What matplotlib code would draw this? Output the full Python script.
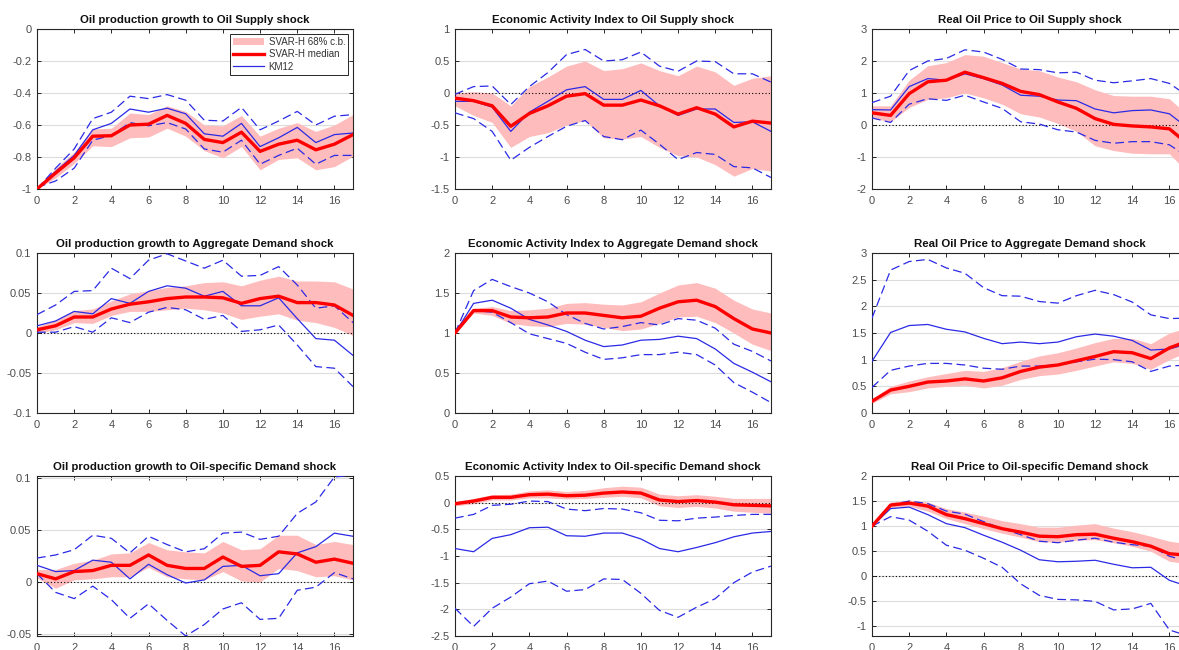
import matplotlib
matplotlib.use("Agg")
import matplotlib.pyplot as plt
from matplotlib.ticker import FuncFormatter

plt.rcParams['font.family'] = ['Liberation Sans', 'DejaVu Sans']

horizons = list(range(18))

# ---------------- Oil Supply shock ----------------
sup_prod_lo = [-1.0, -0.93, -0.84, -0.73, -0.735, -0.68, -0.675, -0.62, -0.67, -0.76, -0.805, -0.735, -0.88, -0.815, -0.805, -0.88, -0.86, -0.795]
sup_prod_hi = [-1.0, -0.87, -0.77, -0.625, -0.62, -0.525, -0.535, -0.48, -0.515, -0.60, -0.605, -0.54, -0.67, -0.62, -0.585, -0.64, -0.60, -0.535]
sup_prod_med = [-1.0, -0.9, -0.805, -0.67, -0.667, -0.60, -0.595, -0.54, -0.59, -0.69, -0.71, -0.645, -0.765, -0.72, -0.695, -0.755, -0.72, -0.66]
sup_prod_km = [-1.0, -0.89, -0.79, -0.63, -0.59, -0.50, -0.52, -0.495, -0.53, -0.655, -0.67, -0.59, -0.735, -0.68, -0.615, -0.71, -0.66, -0.65]
sup_prod_km_hi = [-1.0, -0.87, -0.75, -0.56, -0.52, -0.42, -0.435, -0.41, -0.445, -0.57, -0.575, -0.49, -0.63, -0.575, -0.515, -0.60, -0.545, -0.535]
sup_prod_km_lo = [-0.99, -0.95, -0.87, -0.695, -0.665, -0.585, -0.605, -0.585, -0.625, -0.75, -0.77, -0.695, -0.845, -0.79, -0.745, -0.845, -0.79, -0.79]

sup_act_lo = [-0.2, -0.35, -0.46, -0.85, -0.68, -0.62, -0.5, -0.43, -0.7, -0.72, -0.68, -0.85, -0.98, -1.0, -1.12, -1.3, -1.18, -1.22]
sup_act_hi = [0.0, 0.02, 0.0, -0.2, 0.1, 0.25, 0.42, 0.5, 0.35, 0.38, 0.47, 0.35, 0.27, 0.42, 0.33, 0.12, 0.23, 0.27]
sup_act_med = [-0.08, -0.12, -0.2, -0.52, -0.32, -0.2, -0.05, -0.01, -0.19, -0.19, -0.11, -0.2, -0.33, -0.23, -0.33, -0.53, -0.44, -0.47]
sup_act_km = [-0.13, -0.13, -0.22, -0.6, -0.3, -0.13, 0.05, 0.1, -0.1, -0.1, 0.04, -0.2, -0.35, -0.25, -0.25, -0.46, -0.45, -0.6]
sup_act_km_hi = [-0.02, 0.1, 0.11, -0.18, 0.1, 0.32, 0.6, 0.68, 0.5, 0.52, 0.64, 0.42, 0.34, 0.5, 0.49, 0.3, 0.3, 0.17]
sup_act_km_lo = [-0.31, -0.4, -0.6, -1.05, -0.85, -0.68, -0.52, -0.43, -0.68, -0.73, -0.58, -0.8, -1.04, -0.93, -0.96, -1.15, -1.17, -1.32]

sup_price_lo = [0.22, 0.1, 0.55, 0.8, 0.85, 1.0, 0.85, 0.65, 0.35, 0.25, 0.05, -0.2, -0.65, -0.8, -0.88, -0.9, -0.9, -1.5]
sup_price_hi = [0.6, 0.6, 1.4, 1.85, 1.95, 2.2, 2.15, 1.95, 1.75, 1.7, 1.5, 1.35, 1.1, 0.92, 0.9, 0.9, 0.82, 0.3]
sup_price_med = [0.38, 0.3, 0.98, 1.35, 1.4, 1.65, 1.48, 1.3, 1.05, 0.95, 0.72, 0.52, 0.2, 0.02, -0.03, -0.06, -0.12, -0.6]
sup_price_km = [0.48, 0.47, 1.2, 1.45, 1.4, 1.6, 1.45, 1.25, 0.93, 0.9, 0.78, 0.76, 0.5, 0.38, 0.45, 0.47, 0.35, -0.1]
sup_price_km_hi = [0.7, 0.9, 1.7, 2.0, 2.08, 2.35, 2.28, 2.05, 1.75, 1.73, 1.63, 1.65, 1.4, 1.32, 1.38, 1.45, 1.3, 0.9]
sup_price_km_lo = [0.22, 0.08, 0.65, 0.82, 0.77, 0.93, 0.72, 0.52, 0.1, 0.03, -0.15, -0.22, -0.48, -0.57, -0.52, -0.52, -0.62, -1.0]

# ---------------- Aggregate Demand shock ----------------
agg_prod_lo = [0.0, 0.004, 0.013, 0.012, 0.022, 0.027, 0.027, 0.029, 0.031, 0.029, 0.025, 0.017, 0.021, 0.024, 0.016, 0.013, 0.007, -0.003]
agg_prod_hi = [0.008, 0.016, 0.028, 0.03, 0.04, 0.049, 0.053, 0.057, 0.059, 0.063, 0.064, 0.059, 0.066, 0.071, 0.065, 0.065, 0.064, 0.055]
agg_prod_med = [0.004, 0.009, 0.02, 0.02, 0.03, 0.036, 0.039, 0.043, 0.045, 0.045, 0.044, 0.037, 0.043, 0.046, 0.038, 0.038, 0.035, 0.022]
agg_prod_km = [0.009, 0.015, 0.027, 0.024, 0.043, 0.037, 0.052, 0.059, 0.056, 0.046, 0.052, 0.034, 0.034, 0.044, 0.018, -0.007, -0.009, -0.028]
agg_prod_km_hi = [0.023, 0.035, 0.052, 0.053, 0.081, 0.068, 0.091, 0.099, 0.09, 0.081, 0.091, 0.071, 0.072, 0.083, 0.06, 0.031, 0.034, 0.013]
agg_prod_km_lo = [0.001, 0.001, 0.008, 0.001, 0.019, 0.013, 0.026, 0.032, 0.029, 0.017, 0.022, 0.002, 0.004, 0.01, -0.015, -0.042, -0.044, -0.067]

agg_act_lo = [1.0, 1.25, 1.22, 1.12, 1.09, 1.08, 1.12, 1.11, 1.07, 1.03, 1.05, 1.12, 1.2, 1.21, 1.13, 1.0, 0.86, 0.78]
agg_act_hi = [1.0, 1.31, 1.33, 1.28, 1.29, 1.31, 1.37, 1.38, 1.36, 1.35, 1.39, 1.5, 1.6, 1.63, 1.56, 1.41, 1.3, 1.25]
agg_act_med = [1.0, 1.28, 1.28, 1.2, 1.19, 1.2, 1.25, 1.25, 1.22, 1.19, 1.21, 1.31, 1.39, 1.41, 1.33, 1.18, 1.05, 1.0]
agg_act_km = [1.0, 1.37, 1.41, 1.31, 1.17, 1.1, 1.02, 0.91, 0.83, 0.85, 0.91, 0.92, 0.96, 0.93, 0.8, 0.62, 0.51, 0.39]
agg_act_km_hi = [1.0, 1.53, 1.67, 1.58, 1.5, 1.39, 1.23, 1.12, 1.05, 1.08, 1.13, 1.1, 1.18, 1.16, 1.06, 0.86, 0.77, 0.65]
agg_act_km_lo = [1.0, 1.28, 1.26, 1.13, 0.99, 0.93, 0.87, 0.76, 0.67, 0.69, 0.73, 0.73, 0.76, 0.73, 0.6, 0.38, 0.26, 0.13]

agg_price_lo = [0.18, 0.36, 0.4, 0.47, 0.5, 0.52, 0.47, 0.52, 0.63, 0.7, 0.73, 0.8, 0.88, 0.96, 0.93, 0.82, 1.0, 1.15]
agg_price_hi = [0.27, 0.5, 0.6, 0.68, 0.74, 0.8, 0.78, 0.85, 0.97, 1.07, 1.13, 1.22, 1.32, 1.4, 1.4, 1.3, 1.5, 1.6]
agg_price_med = [0.22, 0.43, 0.5, 0.58, 0.6, 0.64, 0.6, 0.66, 0.78, 0.86, 0.9, 0.98, 1.06, 1.15, 1.13, 1.02, 1.22, 1.35]
agg_price_km = [0.97, 1.51, 1.64, 1.66, 1.57, 1.52, 1.4, 1.3, 1.33, 1.3, 1.33, 1.43, 1.48, 1.44, 1.36, 1.18, 1.2, 1.3]
agg_price_km_hi = [1.78, 2.68, 2.84, 2.88, 2.72, 2.62, 2.35, 2.2, 2.19, 2.09, 2.06, 2.2, 2.3, 2.22, 2.08, 1.84, 1.77, 1.78]
agg_price_km_lo = [0.48, 0.8, 0.88, 0.93, 0.93, 0.9, 0.84, 0.82, 0.88, 0.88, 0.9, 0.96, 1.01, 1.0, 0.96, 0.78, 0.88, 0.9]

# ---------------- Oil-specific Demand shock ----------------
osd_prod_lo = [0.004, -0.006, 0.002, 0.003, 0.005, 0.005, 0.014, 0.005, 0.003, 0.002, 0.01, 0.001, 0.0, 0.013, 0.011, 0.005, 0.006, 0.002]
osd_prod_hi = [0.012, 0.012, 0.018, 0.021, 0.027, 0.028, 0.038, 0.031, 0.029, 0.028, 0.039, 0.031, 0.032, 0.045, 0.045, 0.036, 0.039, 0.036]
osd_prod_med = [0.008, 0.003, 0.01, 0.011, 0.016, 0.016, 0.026, 0.016, 0.013, 0.013, 0.024, 0.015, 0.016, 0.029, 0.027, 0.019, 0.022, 0.018]
osd_prod_km = [0.016, 0.01, 0.011, 0.021, 0.019, 0.003, 0.017, 0.007, -0.001, 0.002, 0.015, 0.016, 0.006, 0.008, 0.028, 0.034, 0.047, 0.044]
osd_prod_km_hi = [0.023, 0.026, 0.031, 0.045, 0.042, 0.028, 0.044, 0.036, 0.029, 0.032, 0.047, 0.048, 0.041, 0.044, 0.066, 0.077, 0.101, 0.103]
osd_prod_km_lo = [0.008, -0.01, -0.016, -0.004, -0.017, -0.035, -0.021, -0.037, -0.052, -0.041, -0.026, -0.02, -0.036, -0.035, -0.008, -0.005, 0.009, 0.003]

osd_act_lo = [-0.06, -0.02, 0.05, 0.05, 0.09, 0.09, 0.07, 0.08, 0.1, 0.12, 0.09, -0.06, -0.09, -0.07, -0.1, -0.16, -0.18, -0.2]
osd_act_hi = [0.02, 0.08, 0.15, 0.16, 0.22, 0.24, 0.21, 0.23, 0.28, 0.31, 0.29, 0.16, 0.13, 0.15, 0.12, 0.08, 0.08, 0.08]
osd_act_med = [-0.02, 0.03, 0.1, 0.1, 0.15, 0.16, 0.13, 0.14, 0.18, 0.2, 0.18, 0.05, 0.02, 0.04, 0.01, -0.04, -0.05, -0.06]
osd_act_km = [-0.86, -0.92, -0.67, -0.6, -0.47, -0.46, -0.62, -0.63, -0.57, -0.57, -0.68, -0.86, -0.92, -0.84, -0.75, -0.64, -0.57, -0.54]
osd_act_km_hi = [-0.29, -0.22, -0.05, -0.03, 0.03, 0.02, -0.12, -0.15, -0.11, -0.12, -0.19, -0.33, -0.34, -0.29, -0.27, -0.24, -0.22, -0.22]
osd_act_km_lo = [-1.98, -2.32, -1.98, -1.77, -1.52, -1.47, -1.66, -1.63, -1.43, -1.44, -1.7, -2.02, -2.15, -1.96, -1.8, -1.5, -1.3, -1.19]

osd_price_lo = [0.98, 1.37, 1.4, 1.3, 1.15, 1.05, 0.95, 0.86, 0.78, 0.69, 0.68, 0.72, 0.73, 0.67, 0.6, 0.5, 0.3, 0.25]
osd_price_hi = [1.02, 1.48, 1.52, 1.48, 1.35, 1.28, 1.2, 1.11, 1.05, 0.98, 0.98, 1.02, 1.05, 0.96, 0.89, 0.8, 0.7, 0.65]
osd_price_med = [1.0, 1.42, 1.46, 1.4, 1.23, 1.15, 1.05, 0.95, 0.88, 0.8, 0.79, 0.83, 0.84, 0.76, 0.69, 0.6, 0.45, 0.42]
osd_price_km = [1.0, 1.35, 1.38, 1.23, 1.05, 0.97, 0.82, 0.68, 0.52, 0.33, 0.29, 0.3, 0.32, 0.24, 0.17, 0.18, -0.08, -0.2]
osd_price_km_hi = [1.0, 1.43, 1.5, 1.45, 1.3, 1.24, 1.09, 0.95, 0.83, 0.7, 0.67, 0.72, 0.76, 0.68, 0.63, 0.6, 0.4, 0.3]
osd_price_km_lo = [1.0, 1.19, 1.12, 0.9, 0.62, 0.52, 0.36, 0.18, -0.15, -0.38, -0.46, -0.47, -0.5, -0.67, -0.65, -0.54, -1.07, -1.19]

titles = [
    ["Oil production growth to Oil Supply shock", "Economic Activity Index to Oil Supply shock", "Real Oil Price to Oil Supply shock"],
    ["Oil production growth to Aggregate Demand shock", "Economic Activity Index to Aggregate Demand shock", "Real Oil Price to Aggregate Demand shock"],
    ["Oil production growth to Oil-specific Demand shock", "Economic Activity Index to Oil-specific Demand shock", "Real Oil Price to Oil-specific Demand shock"],
]

panels = [
    [(sup_prod_lo, sup_prod_hi, sup_prod_med, sup_prod_km, sup_prod_km_hi, sup_prod_km_lo),
     (sup_act_lo, sup_act_hi, sup_act_med, sup_act_km, sup_act_km_hi, sup_act_km_lo),
     (sup_price_lo, sup_price_hi, sup_price_med, sup_price_km, sup_price_km_hi, sup_price_km_lo)],
    [(agg_prod_lo, agg_prod_hi, agg_prod_med, agg_prod_km, agg_prod_km_hi, agg_prod_km_lo),
     (agg_act_lo, agg_act_hi, agg_act_med, agg_act_km, agg_act_km_hi, agg_act_km_lo),
     (agg_price_lo, agg_price_hi, agg_price_med, agg_price_km, agg_price_km_hi, agg_price_km_lo)],
    [(osd_prod_lo, osd_prod_hi, osd_prod_med, osd_prod_km, osd_prod_km_hi, osd_prod_km_lo),
     (osd_act_lo, osd_act_hi, osd_act_med, osd_act_km, osd_act_km_hi, osd_act_km_lo),
     (osd_price_lo, osd_price_hi, osd_price_med, osd_price_km, osd_price_km_hi, osd_price_km_lo)],
]

ylims = [
    [(-1, 0), (-1.5, 1), (-2, 3)],
    [(-0.1, 0.1), (0, 2), (0, 3)],
    [(-0.052, 0.102), (-2.5, 0.5), (-1.19, 2)],
]
yticks = [
    [[-1, -0.8, -0.6, -0.4, -0.2, 0], [-1.5, -1, -0.5, 0, 0.5, 1], [-2, -1, 0, 1, 2, 3]],
    [[-0.1, -0.05, 0, 0.05, 0.1], [0, 0.5, 1, 1.5, 2], [0, 0.5, 1, 1.5, 2, 2.5, 3]],
    [[-0.05, 0, 0.05, 0.1], [-2.5, -2, -1.5, -1, -0.5, 0, 0.5], [-1, -0.5, 0, 0.5, 1, 1.5, 2]],
]
xticks = [0, 2, 4, 6, 8, 10, 12, 14, 16]

W, H = 1179, 650
fig = plt.figure(figsize=(W / 100, H / 100), dpi=100)

col_left = [37, 455, 872]
row_top = [29, 253, 476]
ax_w, ax_h = 316, 160

band_color = '#ffbcbc'
med_color = '#ff0000'
km_color = '#2a2ae6'
axis_gray = '#262626'
label_gray = '#4d4d4d'

fmt = FuncFormatter(lambda v, _: f"{v:g}".replace('\u2212', '-'))

for r in range(3):
    for c in range(3):
        lo, hi, med, km, km_hi, km_lo = panels[r][c]
        ax = fig.add_axes([col_left[c] / W, 1 - (row_top[r] + ax_h) / H, ax_w / W, ax_h / H])
        band = ax.fill_between(horizons, lo, hi, color=band_color, linewidth=0, zorder=1,
                               label='SVAR-H 68% c.b.')
        ax.axhline(0, color='black', linestyle=(0, (1, 2)), linewidth=0.8, zorder=2)
        ax.plot(horizons, km_hi, color=km_color, linewidth=0.9, dashes=(7, 3.5), zorder=3)
        ax.plot(horizons, km_lo, color=km_color, linewidth=0.9, dashes=(7, 3.5), zorder=3)
        kmline, = ax.plot(horizons, km, color=km_color, linewidth=0.9, zorder=3, label='KM12')
        medline, = ax.plot(horizons, med, color=med_color, linewidth=2.4, zorder=4,
                           label='SVAR-H median')

        ax.set_xlim(0, 17)
        ax.set_ylim(*ylims[r][c])
        ax.set_xticks(xticks)
        ax.set_yticks(yticks[r][c])
        ax.yaxis.set_major_formatter(fmt)
        ax.yaxis.grid(True, color='#dcdcdc', linewidth=0.8, zorder=0)
        ax.set_axisbelow(True)
        ax.tick_params(direction='in', length=3, width=0.7, colors=axis_gray,
                       labelcolor=label_gray, labelsize=8, top=True, right=True)
        ax.tick_params(axis='x', pad=5)
        ax.tick_params(axis='y', pad=4)
        for s in ax.spines.values():
            s.set_color(axis_gray)
            s.set_linewidth(0.8)
        ax.set_title(titles[r][c], fontsize=8.2, fontweight='bold', color='#111111', pad=4)

        if r == 0 and c == 0:
            leg = ax.legend(handles=[band, medline, kmline], loc='upper right',
                            fontsize=7, frameon=True, fancybox=False, framealpha=1,
                            edgecolor=axis_gray, borderpad=0.3, labelspacing=0.25,
                            handlelength=3.2, handletextpad=0.5, borderaxespad=0.5)
            leg.get_frame().set_linewidth(0.7)
            for t in leg.get_texts():
                t.set_color('#333333')

fig.savefig('out.png', dpi=100)
